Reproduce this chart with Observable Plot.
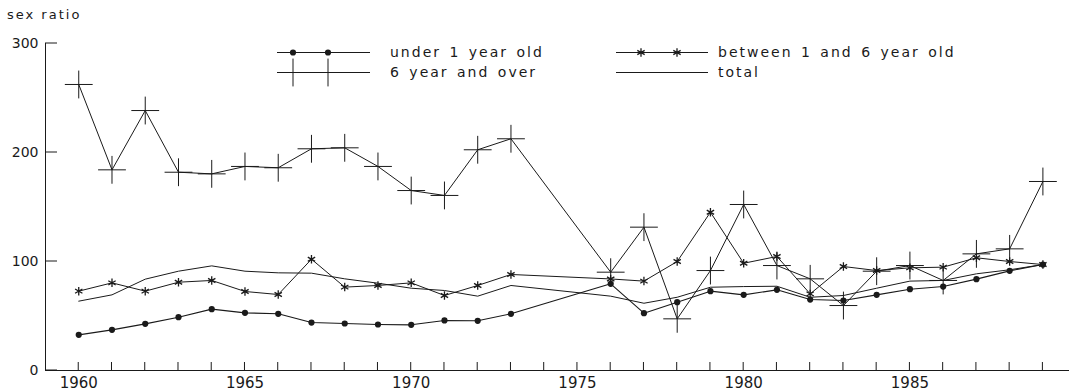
<!DOCTYPE html>
<html>
<head>
<meta charset="utf-8">
<script src="https://cdn.jsdelivr.net/npm/d3@7"></script>
<script src="https://cdn.jsdelivr.net/npm/@observablehq/plot@0.6"></script>
<style>
  html, body { margin: 0; padding: 0; background: #fff; }
  #chart { width: 1075px; height: 392px; }
</style>
</head>
<body>
<div id="chart"></div>
<script>
// ---- data (1974 and 1975 are absent) ----
const years = [1960, 1961, 1962, 1963, 1964, 1965, 1966, 1967, 1968, 1969, 1970, 1971, 1972, 1973,
               1976, 1977, 1978, 1979, 1980, 1981, 1982, 1983, 1984, 1985, 1986, 1987, 1988, 1989];
const under1 = [32.7, 37.3, 42.8, 48.9, 56.3, 52.9, 52, 44, 43.1, 42.2, 41.9, 45.9, 45.6, 52,
                79.5, 52.6, 62.7, 72.8, 69.4, 74, 65.1, 64.2, 69.4, 74.6, 77, 83.8, 91.4, 97.2];
const between1and6 = [72.8, 80.4, 72.8, 81, 82.6, 72.5, 69.7, 102.1, 76.5, 78, 80.4, 68.8, 78, 88.1,
                      84, 82, 100, 145.2, 98.4, 104.6, 70.3, 95.4, 91.7, 94.2, 94.8, 103.4, 100, 97.2];
const sixAndOver = [262.4, 184.1, 238.5, 181.9, 180.4, 187.2, 186, 203.4, 204.3, 187.2, 165.1, 160.6, 202.5, 212.6,
                    90.2, 131.5, 47.4, 91.7, 152.3, 96.3, 84.1, 59.6, 91.1, 96.3, 82.6, 107, 111.6, 173.4];
const total = [63.6, 69.4, 83.8, 91.1, 96, 91.1, 89.6, 89.3, 84.1, 80.1, 75.5, 73.4, 68.2, 78,
               68.2, 61.7, 67.2, 76.4, 77, 77.3, 67.2, 68.8, 75.5, 82, 82.6, 88.7, 92.4, 97.2];

const seriesNames = ["under 1 year old", "between 1 and 6 year old", "6 year and over", "total"];
const yTitle = "sex ratio";
const yTicks = [0, 100, 200, 300];
const xLabelTicks = [1960, 1965, 1970, 1975, 1980, 1985];
const xMinorTicks = d3.range(1960, 1990);
const xDomain = [1959, 1989.8];
const yDomain = [0, 300];

// ---- layout ----
const W = 1075, H = 392;
const M = {left: 45, right: 6, top: 43, bottom: 22};
const yTickLen = 12, xTickLen = 8;

// ---- build ----
const rows = s => years.map((year, i) => ({year, value: s[i]}));
const ink = "#1a1a1a";

const plot = Plot.plot({
  width: W,
  height: H,
  marginLeft: M.left,
  marginRight: M.right,
  marginTop: M.top,
  marginBottom: M.bottom,
  x: {domain: xDomain},
  y: {domain: yDomain},
  style: {fontFamily: "DejaVu Sans", fontSize: "14px", color: ink, background: "#fff"},
  marks: [
    Plot.ruleY([yDomain[0]], {stroke: ink, strokeWidth: 1}),
    Plot.ruleX([xDomain[0]], {stroke: ink, strokeWidth: 1}),
    Plot.axisY(yTicks, {anchor: "left", tickSize: 0, tickPadding: 7, label: null, fontSize: 14}),
    Plot.axisX(xLabelTicks, {anchor: "bottom", tickSize: 0, tickPadding: 7, tickFormat: d => String(d), label: null, fontSize: 15}),

    Plot.line(rows(total), {x: "year", y: "value", stroke: ink, strokeWidth: 1}),
    Plot.line(rows(under1), {x: "year", y: "value", stroke: ink, strokeWidth: 1.1}),
    Plot.dot(rows(under1), {x: "year", y: "value", symbol: "circle", r: 3.1, fill: ink, stroke: "none"}),
    Plot.line(rows(between1and6), {x: "year", y: "value", stroke: ink, strokeWidth: 1}),
    Plot.dot(rows(between1and6), {x: "year", y: "value", symbol: "asterisk", r: 4, stroke: ink, strokeWidth: 1.3}),
    Plot.line(rows(sixAndOver), {x: "year", y: "value", stroke: ink, strokeWidth: 1}),
    Plot.dot(rows(sixAndOver), {x: "year", y: "value", symbol: "plus", r: 9, stroke: ink, strokeWidth: 1})
  ]
});

document.getElementById("chart").appendChild(plot);

const svg = d3.select(plot);

// ---- inward ticks, placed with the plot's own scales ----
const xs = plot.scale("x"), ys = plot.scale("y");
const px = v => (xs.apply ? xs.apply(v) : d3.scaleLinear(xs.domain, xs.range)(v));
const py = v => (ys.apply ? ys.apply(v) : d3.scaleLinear(ys.domain, ys.range)(v));
const tg = svg.append("g").attr("class", "inward-ticks").attr("stroke", ink).attr("stroke-width", 1);
const x0px = px(xDomain[0]), y0px = py(yDomain[0]);
yTicks.forEach(t => {
  tg.append("line").attr("x1", x0px).attr("x2", x0px + yTickLen)
    .attr("y1", py(t)).attr("y2", py(t));
});
xMinorTicks.forEach(t => {
  tg.append("line").attr("x1", px(t)).attr("x2", px(t))
    .attr("y1", y0px).attr("y2", y0px - xTickLen);
});

// ---- y title and in-plot legend ----
svg.append("text")
  .attr("x", 7).attr("y", 19)
  .attr("fill", ink)
  .attr("text-anchor", "start")
  .style("font-family", "DejaVu Sans").style("font-size", "13px")
  .style("letter-spacing", "2px")
  .text(yTitle);

const legendItems = [
  {name: seriesNames[0], symbol: d3.symbolCircle, size: Math.PI * 3.1 * 3.1, filled: true, col: 0, row: 0},
  {name: seriesNames[1], symbol: d3.symbolAsterisk, size: Math.PI * 16, filled: false, col: 1, row: 0},
  {name: seriesNames[2], symbol: d3.symbolPlus, size: Math.PI * 81, filled: false, col: 0, row: 1},
  {name: seriesNames[3], symbol: null, col: 1, row: 1}
];
const cols = [
  {x: 277, w: 93, markers: [16, 51], textX: 113},
  {x: 616, w: 92, markers: [25, 61], textX: 102}
];
const rowY = [52.5, 72.5];
const lg = svg.append("g").attr("class", "legend");
legendItems.forEach(it => {
  const c = cols[it.col], y0 = rowY[it.row];
  const g = lg.append("g").attr("transform", `translate(${c.x},${y0})`);
  g.append("line").attr("x1", 0).attr("x2", c.w).attr("y1", 0).attr("y2", 0)
    .attr("stroke", ink).attr("stroke-width", 1);
  if (it.symbol) {
    c.markers.forEach(mx => {
      g.append("path")
        .attr("transform", `translate(${mx},0)`)
        .attr("d", d3.symbol().type(it.symbol).size(it.size)())
        .attr("fill", it.filled ? ink : "none")
        .attr("stroke", it.filled ? "none" : ink)
        .attr("stroke-width", it.symbol === d3.symbolAsterisk ? 1.3 : 1);
    });
  }
  g.append("text")
    .attr("x", c.textX).attr("y", 0).attr("dy", "0.35em")
    .attr("text-anchor", "start")
    .attr("fill", ink)
    .style("font-family", "DejaVu Sans").style("font-size", "14px")
    .style("letter-spacing", "2px").style("word-spacing", "2px")
    .text(it.name);
});
</script>
</body>
</html>
